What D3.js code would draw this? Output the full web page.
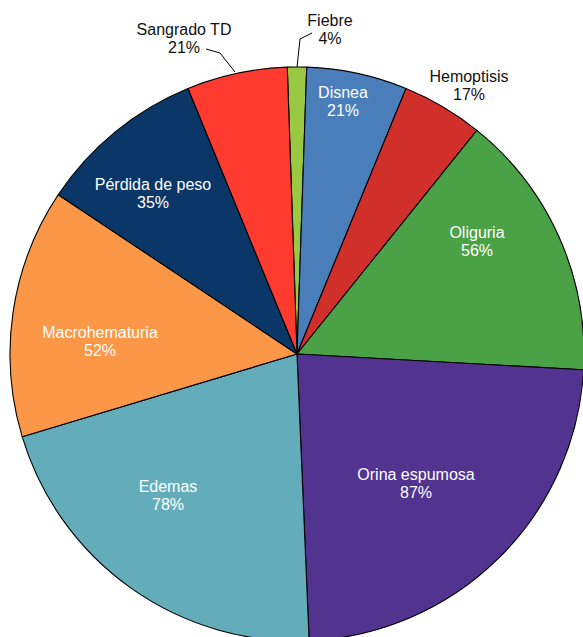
<!DOCTYPE html>
<html>
<head>
<meta charset="utf-8">
<script src="https://cdn.jsdelivr.net/npm/d3@7"></script>
<style>
  html, body { margin: 0; padding: 0; background: #fff; }
  svg { display: block; }
  text { font-family: "Liberation Sans", Arial, Helvetica, sans-serif; font-size: 16px; }
</style>
</head>
<body>
<svg id="chart" width="583" height="637"></svg>
<script>
// Data
const categories = ["Fiebre", "Disnea", "Hemoptisis", "Oliguria", "Orina espumosa", "Edemas", "Macrohematuria", "Pérdida de peso", "Sangrado TD"];
const values = [4, 21, 17, 56, 87, 78, 52, 35, 21];
const labels = ["4%", "21%", "17%", "56%", "87%", "78%", "52%", "35%", "21%"];

// Styling / layout (kept separate from data)
const colors = ["#9bc843", "#4a7ebb", "#d1302a", "#4ba246", "#523490", "#63adba", "#fd9748", "#0b3768", "#ff3b2f"];
const outside = [true, false, true, false, false, false, false, false, true];
// label anchor positions (first-line baseline + 4)
const labelPos = [[330, 30], [343, 102], [469, 86], [477, 242], [416, 484], [168, 496], [100, 342], [153, 194], [184, 39]];
const leaders = { 0: [[312, 33], [300, 39], [297, 67]], 8: [[206, 49], [220, 53], [235, 72]] };

const cx = 297, cy = 354, R = 287;
const svg = d3.select("#chart");
const total = d3.sum(values);
const offset = -(values[0] / total) * Math.PI; // first slice centred on top

const pie = d3.pie().sort(null).value(d => d)
  .startAngle(offset).endAngle(offset + 2 * Math.PI);
const arc = d3.arc().innerRadius(0).outerRadius(R);

const g = svg.append("g").attr("transform", `translate(${cx},${cy})`);
g.selectAll("path.slice")
  .data(pie(values))
  .join("path")
  .attr("class", "slice")
  .attr("d", arc)
  .attr("fill", (d, i) => colors[i])
  .attr("stroke", "#000")
  .attr("stroke-width", 1.1)
  .attr("stroke-linejoin", "round");

// leader lines
const line = d3.line();
Object.keys(leaders).forEach(k => {
  svg.append("path")
    .attr("d", line(leaders[k]))
    .attr("fill", "none")
    .attr("stroke", "#000")
    .attr("stroke-width", 1);
});

// labels
const lg = svg.append("g");
categories.forEach((c, i) => {
  const [x, y] = labelPos[i];
  const t = lg.append("text")
    .attr("text-anchor", "middle")
    .attr("fill", outside[i] ? "#111" : "#fff");
  t.append("tspan").attr("x", x).attr("y", y - 4).text(c);
  t.append("tspan").attr("x", x).attr("y", y + 14).text(labels[i]);
});
</script>
</body>
</html>
